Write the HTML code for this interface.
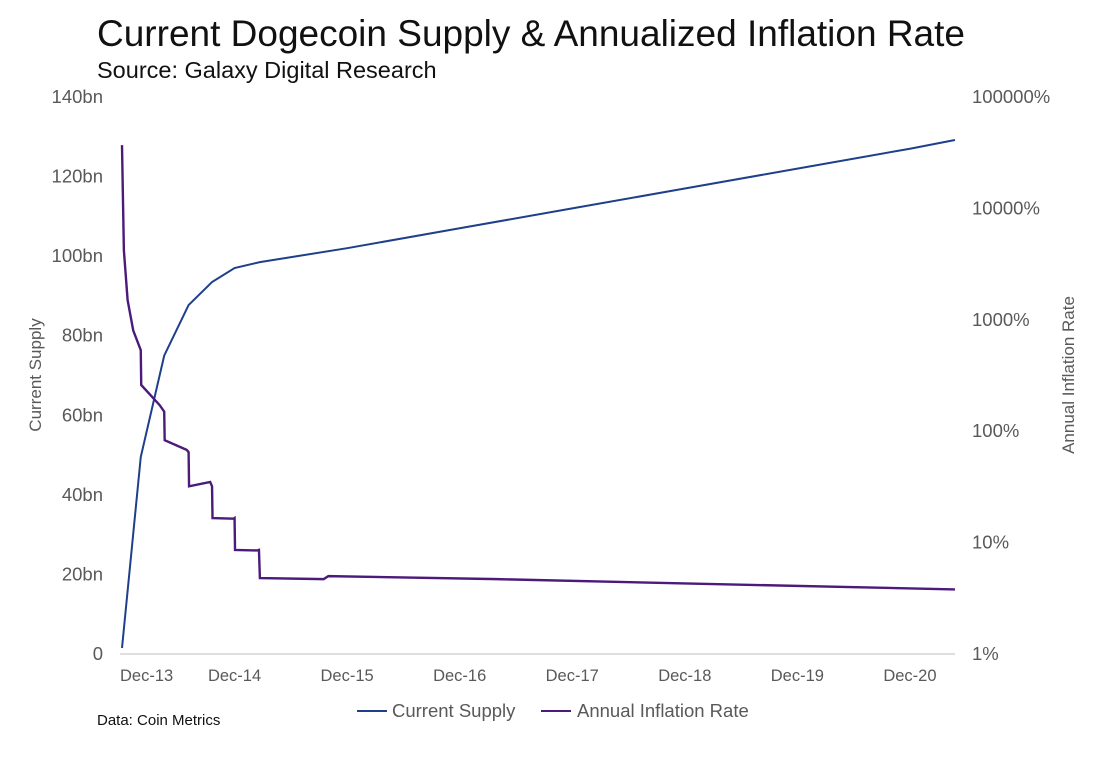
<!DOCTYPE html>
<html><head><meta charset="utf-8">
<style>
body{margin:0;background:#fff;font-family:"Liberation Sans",sans-serif;}
svg text{font-family:"Liberation Sans",sans-serif;}
</style></head>
<body>
<svg width="1100" height="754" xmlns="http://www.w3.org/2000/svg">
<text x="97" y="46" font-size="37" fill="#111">Current Dogecoin Supply &amp; Annualized Inflation Rate</text>
<text x="97" y="78" font-size="23.5" fill="#111">Source: Galaxy Digital Research</text>
<g id="axes"></g>
<g id="series"></g>
<text transform="translate(41,375) rotate(-90)" text-anchor="middle" font-size="17" fill="#595959">Current Supply</text>
<text transform="translate(1074,375) rotate(-90)" text-anchor="middle" font-size="17" fill="#595959">Annual Inflation Rate</text>
<g>
<line x1="357" y1="711" x2="387" y2="711" stroke="#1f3f8a" stroke-width="2"/>
<text x="392" y="717" font-size="18.5" fill="#595959">Current Supply</text>
<line x1="541" y1="711" x2="571" y2="711" stroke="#4b1a7a" stroke-width="2"/>
<text x="577" y="717" font-size="18.5" fill="#595959">Annual Inflation Rate</text>
</g>
<text x="97" y="725" font-size="15" fill="#111">Data: Coin Metrics</text>
</svg>
<script>
const xTickLabels=["Dec-13","Dec-14","Dec-15","Dec-16","Dec-17","Dec-18","Dec-19","Dec-20"];
const xTickMonths=[0,12,24,36,48,60,72,84];
const leftTicks=[0,20,40,60,80,100,120,140];
const leftTickLabels=["0","20bn","40bn","60bn","80bn","100bn","120bn","140bn"];
const rightTicks=[1,10,100,1000,10000,100000];
const rightTickLabels=["1%","10%","100%","1000%","10000%","100000%"];
const supplyMonths=[0,2,4.5,7.1,9.6,12,14.7,24,36,48,60,72,84,88.8];
const supplyValues=[1.5,49.5,75,87.7,93.5,97,98.5,102,107,112,117,122,127,129.2];
const inflMonths=[0,0.2,0.6,1.2,2.0,2.05,4.0,4.5,4.55,6.9,7.1,7.15,9.4,9.6,9.65,11.9,12.0,12.05,14.4,14.6,14.7,21.5,22,40,60,80,88.8];
const inflValues=[37000,4200,1500,800,535,260,172,150,83,68,65,32,35,32,16.6,16.4,16.6,8.6,8.5,8.6,4.8,4.7,5.0,4.7,4.3,3.95,3.8];
const NS="http://www.w3.org/2000/svg";
const x0=122,pxMonth=9.38,yBase=654,yTop=97;
const xScale=m=>x0+m*pxMonth;
const yLeft=v=>yBase-(v/140)*(yBase-yTop);
const yRight=v=>yBase-(Math.log10(v)/5)*(yBase-yTop);
function mk(tag,attrs,parent){const e=document.createElementNS(NS,tag);for(const k in attrs)e.setAttribute(k,attrs[k]);parent.appendChild(e);return e;}
const axes=document.getElementById('axes'),series=document.getElementById('series');
const axl=mk('line',{x1:120,y1:yBase,x2:955,y2:yBase,stroke:'#bfbfbf','stroke-width':1},axes);


xTickMonths.forEach((m,i)=>{const first=i===0;const t=mk('text',{x:first?120:xScale(m),y:681,'text-anchor':first?'start':'middle','font-size':16.5,fill:'#595959'},axes);t.textContent=xTickLabels[i];

});
leftTicks.forEach((v,i)=>{const t=mk('text',{x:103,y:yLeft(v)+6,'text-anchor':'end','font-size':18.5,fill:'#595959'},axes);t.textContent=leftTickLabels[i];

});
rightTicks.forEach((v,i)=>{const t=mk('text',{x:972,y:yRight(v)+6,'font-size':18.5,fill:'#595959'},axes);t.textContent=rightTickLabels[i];

});
const sp=mk('polyline',{points:supplyMonths.map((m,i)=>xScale(m)+','+yLeft(supplyValues[i])).join(' '),fill:'none',stroke:'#1f3f8a','stroke-width':2},series);


const ip=mk('polyline',{points:inflMonths.map((m,i)=>xScale(m)+','+yRight(inflValues[i])).join(' '),fill:'none',stroke:'#4b1a7a','stroke-width':2.4},series);


</script>
</body></html>
